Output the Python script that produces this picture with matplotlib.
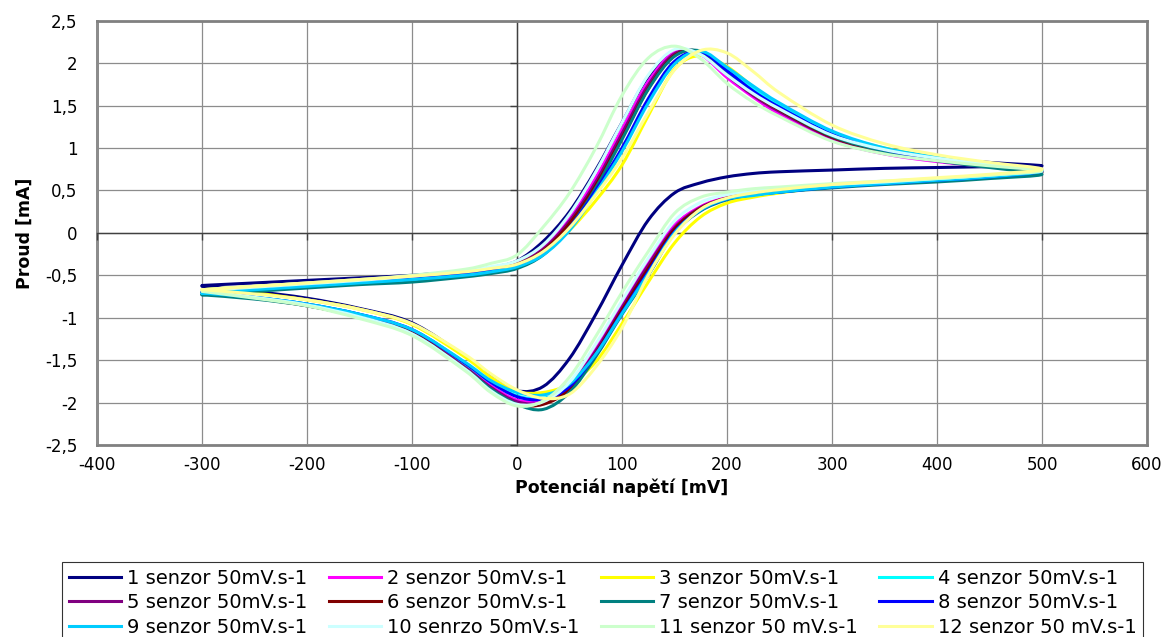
import matplotlib
matplotlib.use('Agg')
import matplotlib.pyplot as plt
from matplotlib.ticker import FixedLocator, FuncFormatter
from matplotlib.path import Path
from matplotlib.patches import PathPatch
from matplotlib.lines import Line2D

# potenciál [mV]: dopředný sken -300 -> 500, zpětný 500 -> -300
potencial_tam = [-300, -250, -200, -150, -100, -50, -25, 0, 25, 50, 75, 100, 125,
                 150, 175, 200, 225, 250, 300, 350, 400, 450, 500]
potencial_zpet = [450, 400, 350, 300, 250, 225, 200, 175, 150, 125, 100, 75, 50,
                  25, 0, -25, -50, -100, -150, -200, -250, -300]
potencial = potencial_tam + potencial_zpet

# proud [mA] (první řádek tam, druhý zpět)
senzor_1 = [-0.62, -0.59, -0.56, -0.53, -0.50, -0.45, -0.41, -0.33, -0.10, 0.25, 0.74, 1.30, 1.84, 2.12, 2.12, 1.90, 1.64, 1.45, 1.13, 0.97, 0.88, 0.83, 0.79,
            0.78, 0.77, 0.76, 0.74, 0.72, 0.70, 0.66, 0.59, 0.47, 0.15, -0.38, -0.96, -1.48, -1.81, -1.86, -1.68, -1.45, -1.06, -0.89, -0.77, -0.69, -0.63]
senzor_2 = [-0.68, -0.64, -0.60, -0.56, -0.52, -0.46, -0.41, -0.34, -0.17, 0.17, 0.65, 1.22, 1.78, 2.13, 2.10, 1.83, 1.60, 1.40, 1.09, 0.93, 0.84, 0.78, 0.73,
            0.67, 0.63, 0.59, 0.55, 0.50, 0.47, 0.42, 0.31, 0.09, -0.33, -0.84, -1.36, -1.78, -1.97, -1.97, -1.80, -1.57, -1.16, -0.97, -0.85, -0.76, -0.68]
senzor_3 = [-0.67, -0.63, -0.60, -0.56, -0.52, -0.47, -0.43, -0.38, -0.24, 0.03, 0.38, 0.80, 1.38, 1.93, 2.09, 1.96, 1.72, 1.50, 1.18, 1.00, 0.89, 0.81, 0.74,
            0.67, 0.63, 0.59, 0.55, 0.47, 0.42, 0.35, 0.19, -0.12, -0.58, -1.07, -1.52, -1.78, -1.88, -1.87, -1.70, -1.46, -1.08, -0.90, -0.79, -0.71, -0.67]
senzor_4 = [-0.70, -0.66, -0.62, -0.58, -0.54, -0.49, -0.45, -0.39, -0.25, 0.05, 0.50, 0.98, 1.55, 2.00, 2.13, 1.93, 1.70, 1.50, 1.18, 0.99, 0.88, 0.80, 0.73,
            0.66, 0.62, 0.58, 0.54, 0.48, 0.45, 0.40, 0.28, 0.02, -0.45, -0.93, -1.42, -1.80, -1.95, -1.92, -1.76, -1.54, -1.15, -0.96, -0.84, -0.76, -0.70]
senzor_5 = [-0.69, -0.65, -0.61, -0.57, -0.53, -0.47, -0.42, -0.35, -0.19, 0.14, 0.60, 1.17, 1.74, 2.11, 2.12, 1.86, 1.62, 1.43, 1.12, 0.95, 0.85, 0.78, 0.72,
            0.67, 0.63, 0.59, 0.55, 0.50, 0.46, 0.41, 0.30, 0.06, -0.38, -0.88, -1.39, -1.81, -2.00, -1.99, -1.82, -1.58, -1.17, -0.98, -0.85, -0.77, -0.69]
senzor_6 = [-0.70, -0.66, -0.62, -0.58, -0.54, -0.48, -0.43, -0.37, -0.21, 0.11, 0.56, 1.12, 1.70, 2.09, 2.13, 1.88, 1.64, 1.45, 1.13, 0.96, 0.86, 0.79, 0.72,
            0.66, 0.62, 0.58, 0.54, 0.49, 0.46, 0.41, 0.29, 0.04, -0.42, -0.91, -1.42, -1.84, -2.02, -2.02, -1.85, -1.60, -1.18, -0.99, -0.86, -0.77, -0.70]
senzor_7 = [-0.73, -0.69, -0.65, -0.61, -0.58, -0.52, -0.48, -0.42, -0.26, 0.06, 0.53, 1.10, 1.69, 2.08, 2.14, 1.90, 1.66, 1.46, 1.14, 0.96, 0.85, 0.77, 0.69,
            0.64, 0.60, 0.57, 0.53, 0.48, 0.45, 0.39, 0.26, 0.00, -0.50, -0.96, -1.46, -1.88, -2.08, -2.02, -1.84, -1.60, -1.19, -0.99, -0.86, -0.78, -0.73]
senzor_8 = [-0.70, -0.66, -0.62, -0.58, -0.54, -0.49, -0.45, -0.39, -0.24, 0.06, 0.50, 1.00, 1.58, 2.02, 2.13, 1.91, 1.67, 1.48, 1.16, 0.98, 0.87, 0.80, 0.73,
            0.66, 0.62, 0.58, 0.54, 0.48, 0.45, 0.40, 0.27, 0.01, -0.46, -0.94, -1.43, -1.81, -1.96, -1.93, -1.76, -1.53, -1.14, -0.96, -0.84, -0.76, -0.70]
senzor_9 = [-0.71, -0.67, -0.63, -0.59, -0.55, -0.50, -0.46, -0.40, -0.26, 0.03, 0.47, 0.96, 1.53, 1.99, 2.14, 1.95, 1.73, 1.53, 1.20, 1.00, 0.89, 0.81, 0.73,
            0.66, 0.62, 0.58, 0.54, 0.48, 0.44, 0.40, 0.27, 0.00, -0.48, -0.95, -1.43, -1.78, -1.91, -1.88, -1.74, -1.52, -1.14, -0.96, -0.84, -0.76, -0.71]
senzor_10 = [-0.68, -0.64, -0.60, -0.56, -0.51, -0.45, -0.40, -0.33, -0.14, 0.22, 0.72, 1.30, 1.86, 2.16, 2.10, 1.86, 1.64, 1.46, 1.15, 0.98, 0.88, 0.81, 0.74,
             0.68, 0.64, 0.60, 0.57, 0.52, 0.49, 0.45, 0.36, 0.14, -0.30, -0.80, -1.31, -1.76, -1.99, -2.02, -1.86, -1.60, -1.19, -0.99, -0.85, -0.76, -0.68]
senzor_11 = [-0.67, -0.63, -0.59, -0.55, -0.50, -0.43, -0.36, -0.26, 0.07, 0.47, 1.00, 1.62, 2.06, 2.20, 2.05, 1.76, 1.54, 1.37, 1.08, 0.93, 0.85, 0.79, 0.73,
             0.68, 0.64, 0.61, 0.58, 0.54, 0.52, 0.48, 0.42, 0.23, -0.22, -0.70, -1.22, -1.70, -1.98, -2.04, -1.88, -1.62, -1.21, -1.01, -0.86, -0.77, -0.69]
senzor_12 = [-0.67, -0.63, -0.59, -0.55, -0.51, -0.46, -0.42, -0.37, -0.22, 0.06, 0.45, 0.88, 1.42, 1.92, 2.15, 2.12, 1.90, 1.65, 1.27, 1.05, 0.92, 0.83, 0.75,
             0.69, 0.65, 0.61, 0.57, 0.51, 0.47, 0.41, 0.28, -0.02, -0.50, -1.12, -1.58, -1.90, -1.95, -1.85, -1.66, -1.43, -1.07, -0.90, -0.79, -0.72, -0.67]

popisky = ['1 senzor 50mV.s-1', '2 senzor 50mV.s-1', '3 senzor 50mV.s-1', '4 senzor 50mV.s-1',
           '5 senzor 50mV.s-1', '6 senzor 50mV.s-1', '7 senzor 50mV.s-1', '8 senzor 50mV.s-1',
           '9 senzor 50mV.s-1', '10 senrzo 50mV.s-1', '11 senzor 50 mV.s-1', '12 senzor 50 mV.s-1']
barvy = ['#000080', '#FF00FF', '#FFFF00', '#00FFFF', '#800080', '#800000',
         '#008080', '#0000FF', '#00CCFF', '#CCFFFF', '#CCFFCC', '#FFFF99']

serie = [senzor_1, senzor_2, senzor_3, senzor_4, senzor_5, senzor_6,
         senzor_7, senzor_8, senzor_9, senzor_10, senzor_11, senzor_12]

x_ticks = [-400, -300, -200, -100, 0, 100, 200, 300, 400, 500, 600]
y_ticks = [-2.5, -2, -1.5, -1, -0.5, 0, 0.5, 1, 1.5, 2, 2.5]


def hladka_cesta(x, y):
    # vyhlazena cara pres body (jako "smoothed line" v Excelu)
    verts = [(x[0], y[0])]
    codes = [Path.MOVETO]
    n = len(x)
    for i in range(n - 1):
        xa, ya = (x[i - 1], y[i - 1]) if i > 0 else (x[i], y[i])
        xb, yb = (x[i + 2], y[i + 2]) if i + 2 < n else (x[i + 1], y[i + 1])
        c1 = (x[i] + (x[i + 1] - xa) / 6, y[i] + (y[i + 1] - ya) / 6)
        c2 = (x[i + 1] - (xb - x[i]) / 6, y[i + 1] - (yb - y[i]) / 6)
        verts += [c1, c2, (x[i + 1], y[i + 1])]
        codes += [Path.CURVE4] * 3
    return Path(verts, codes)


plt.rcParams['font.family'] = ['DejaVu Sans']

fig = plt.figure(figsize=(11.67, 6.37), dpi=100)
ax = fig.add_axes([0.0831, 0.3014, 0.8998, 0.6661])

handles = []
for vals, c in zip(serie, barvy):
    ax.add_patch(PathPatch(hladka_cesta(potencial, vals), fill=False, edgecolor=c,
                           lw=2.2, joinstyle='round', capstyle='round', zorder=3))
    handles.append(Line2D([0], [0], color=c, lw=2.2))

ax.set_xlim(-400, 600)
ax.set_ylim(-2.5, 2.5)
ax.xaxis.set_major_locator(FixedLocator(x_ticks))
ax.yaxis.set_major_locator(FixedLocator(y_ticks))
ax.grid(True, color='#8c8c8c', lw=0.9)
ax.set_axisbelow(True)

# osy kreslene v nule (jako v Excelu)
for s in ['bottom', 'left']:
    ax.spines[s].set_position(('data', 0))
    ax.spines[s].set_color('#404040')
    ax.spines[s].set_linewidth(1.0)
for s in ['top', 'right']:
    ax.spines[s].set_color('#808080')
    ax.spines[s].set_linewidth(2.0)
ax.tick_params(axis='both', direction='out', length=5, width=1, color='#404040',
               labelbottom=False, labelleft=False)

fmt = FuncFormatter(lambda v, p: ('%g' % v).replace('.', ','))

secx = ax.secondary_xaxis('bottom')
secx.xaxis.set_major_locator(FixedLocator(x_ticks))
secx.xaxis.set_major_formatter(fmt)
secx.tick_params(length=0, pad=8, labelsize=12)
secx.spines['bottom'].set_color('#808080')
secx.spines['bottom'].set_linewidth(2.0)
secx.set_xlabel('Potenciál napětí [mV]', fontsize=12.5, fontweight='bold', labelpad=3)

secy = ax.secondary_yaxis('left')
secy.yaxis.set_major_locator(FixedLocator(y_ticks))
secy.yaxis.set_major_formatter(fmt)
secy.tick_params(length=0, pad=14, labelsize=12)
secy.spines['left'].set_color('#808080')
secy.spines['left'].set_linewidth(2.0)
secy.set_ylabel('Proud [mA]', fontsize=12.5, fontweight='bold', labelpad=8)

# legenda po radcich
poradi = [0, 4, 8, 1, 5, 9, 2, 6, 10, 3, 7, 11]
leg = fig.legend([handles[i] for i in poradi], [popisky[i] for i in poradi],
                 loc='upper left', bbox_to_anchor=(0.0531, 0.1177), ncol=4,
                 frameon=True, fancybox=False, edgecolor='black', fontsize=14,
                 handlelength=2.7, handletextpad=0.3, columnspacing=1.1,
                 labelspacing=0.28, borderpad=0.35, borderaxespad=0)
leg.get_frame().set_linewidth(0.8)

fig.savefig('out.png', dpi=100)
